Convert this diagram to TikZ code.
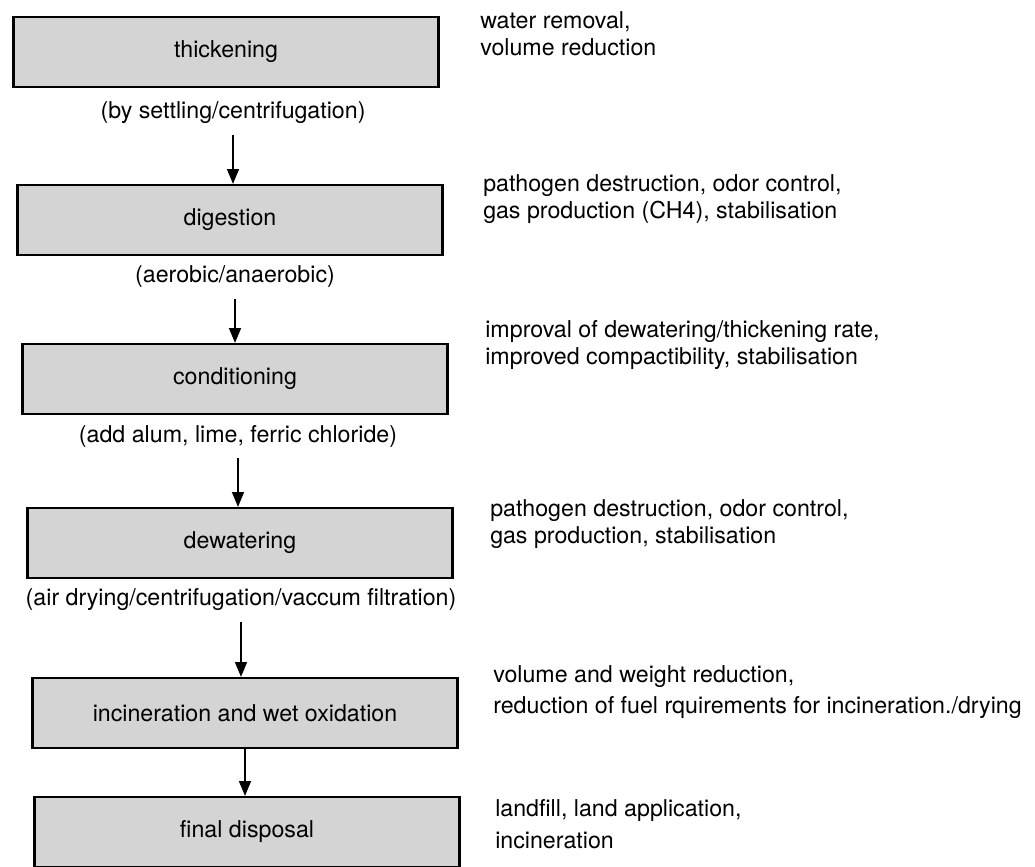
\documentclass[tikz,border=0pt]{standalone}
\usepackage{fontspec}
\setmainfont{TeX Gyre Heros}
\usetikzlibrary{arrows.meta}
\begin{document}
\begin{tikzpicture}[x=0.025cm, y=-0.025cm,
  stepbox/.style={draw, line width=1.6pt, fill=black!17, minimum width=10.62cm, minimum height=1.75cm, font=\fontsize{16.5}{20}\selectfont},
  via/.style={font=\fontsize{16.5}{20}\selectfont},
  effect/.style={anchor=west, align=left, inner sep=0pt, font=\fontsize{16.5}{19.5}\selectfont},
  flow/.style={-{Triangle[length=10.5pt,width=8.5pt]}, line width=1.1pt, shorten <=4pt}]
\useasboundingbox (0,0) rectangle (1035,867);
% process steps
\node[stepbox] (thick) at (226,52) {thickening};
\node[via] (thick-via) at (233,113) {(by settling/centrifugation)};
\node[stepbox] (dig) at (230,220) {digestion};
\node[via] (dig-via) at (235,277) {(aerobic/anaerobic)};
\node[stepbox] (cond) at (235,379) {conditioning};
\node[via] (cond-via) at (238,436) {(add alum, lime, ferric chloride)};
\node[stepbox] (dewat) at (240,543) {dewatering};
\node[via] (dewat-via) at (241,600) {(air drying/centrifugation/vaccum filtration)};
\node[stepbox] (incin) at (245,713) {incineration and wet oxidation};
\node[stepbox] (disp) at (247,832) {final disposal};
% arrows
\draw[flow] (thick-via.south) -- (thick-via.south |- dig.north);
\draw[flow] (dig-via.south) -- (dig-via.south |- cond.north);
\draw[flow] (cond-via.south) -- (cond-via.south |- dewat.north);
\draw[flow] (dewat-via.south) -- (dewat-via.south |- incin.north);
\draw[flow, shorten <=0pt] (incin.south) -- (incin.south |- disp.north);
% effects
\node[effect] (thick-eff) at (480,34) {water removal,\\volume reduction};
\node[effect] (dig-eff) at (483,199) {pathogen destruction, odor control,\\gas production (CH4), stabilisation};
\node[effect] (cond-eff) at (485,345) {improval of dewatering/thickening rate,\\improved compactibility, stabilisation};
\node[effect] (dewat-eff) at (490,524) {pathogen destruction, odor control,\\gas production, stabilisation};
\node[effect, font=\fontsize{16.5}{22.5}\selectfont] (incin-eff) at (493,692) {volume and weight reduction,\\reduction of fuel rquirements for incineration./drying};
\node[effect, font=\fontsize{16.5}{22.5}\selectfont] (disp-eff) at (495,824) {landfill, land application,\\incineration};
\end{tikzpicture}
\end{document}
